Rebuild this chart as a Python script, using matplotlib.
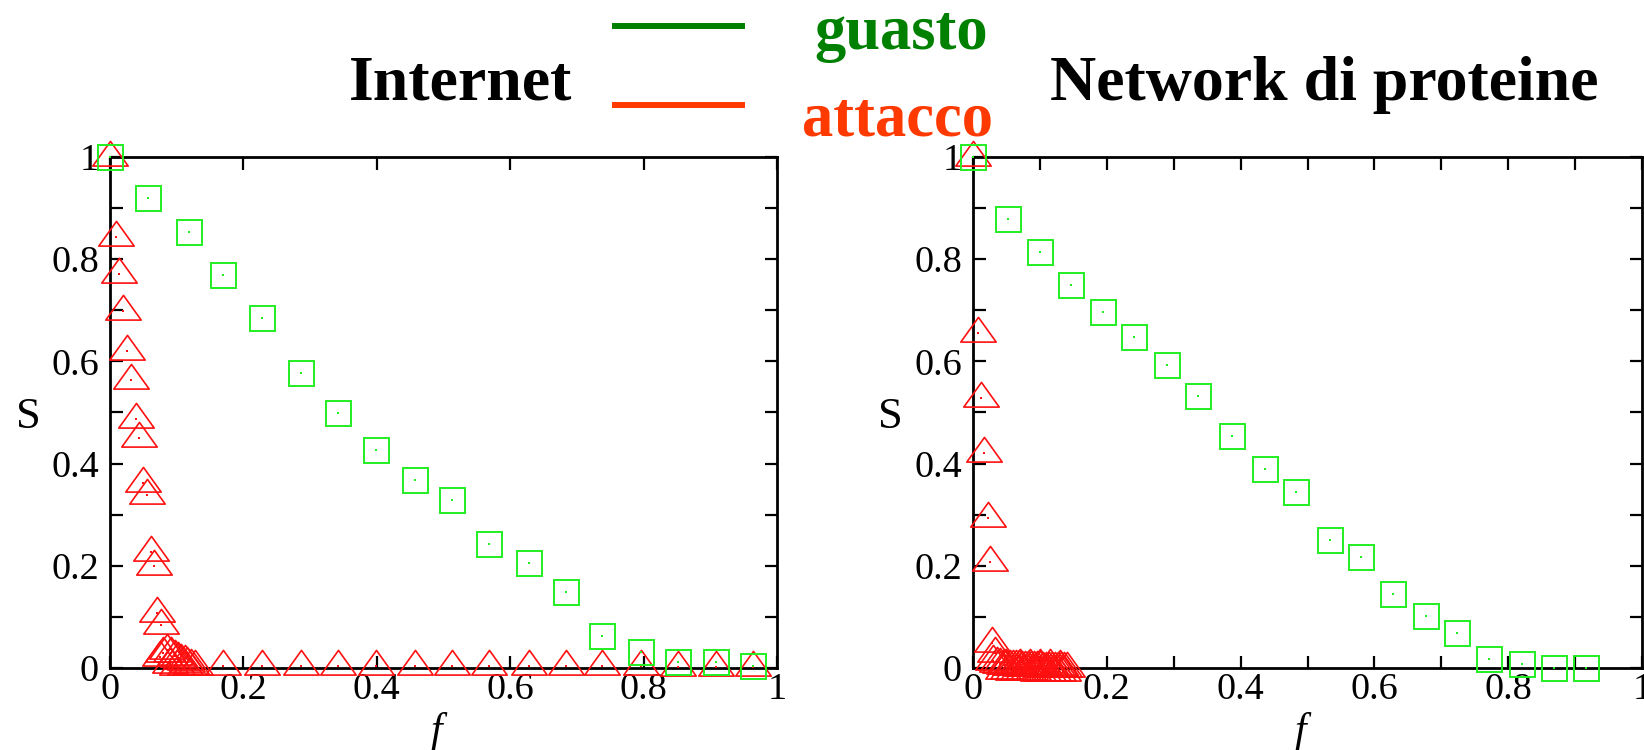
import matplotlib
matplotlib.use('Agg')
import matplotlib.pyplot as plt
from matplotlib.lines import Line2D
from matplotlib.path import Path
from matplotlib.ticker import FixedLocator, MultipleLocator, FixedFormatter

plt.rcParams['font.family'] = ['Liberation Serif', 'DejaVu Serif']

# ---------------- data ----------------
# Internet: failure (guasto)
f_fail_int = [0.0, 0.057, 0.118, 0.170, 0.228, 0.286, 0.342, 0.399, 0.457, 0.513,
              0.568, 0.628, 0.684, 0.738, 0.796, 0.852, 0.909, 0.964]
S_fail_int = [1.0, 0.920, 0.854, 0.770, 0.684, 0.577, 0.499, 0.427, 0.368, 0.329,
              0.242, 0.205, 0.148, 0.062, 0.031, 0.012, 0.012, 0.004]

# Internet: attack (attacco)
f_att_int = [0.0, 0.009, 0.014, 0.020, 0.026, 0.032, 0.039, 0.044, 0.050, 0.055,
             0.062, 0.066, 0.071, 0.077,
             0.080, 0.085, 0.092, 0.097, 0.075, 0.102, 0.107, 0.112, 0.115, 0.090,
             0.122, 0.100, 0.112, 0.128,
             0.170, 0.228, 0.286, 0.342, 0.399, 0.457, 0.513, 0.568, 0.628, 0.684,
             0.738, 0.796, 0.852, 0.909, 0.964]
S_att_int = [1.0, 0.844, 0.772, 0.699, 0.621, 0.563, 0.488, 0.451, 0.362, 0.339,
             0.227, 0.200, 0.108, 0.084,
             0.029, 0.035, 0.029, 0.023, 0.022, 0.019, 0.016, 0.013, 0.009, 0.008,
             0.006, 0.004, 0.003, 0.003,
             0.003, 0.003, 0.003, 0.003, 0.003, 0.003, 0.003, 0.003, 0.003, 0.003,
             0.003, 0.003, 0.002, 0.002, 0.001]

# Protein network: failure (guasto)
f_fail_prot = [0.0, 0.053, 0.100, 0.147, 0.194, 0.241, 0.290, 0.337, 0.387, 0.436,
               0.483, 0.533, 0.580, 0.628, 0.677, 0.724, 0.771, 0.820, 0.868, 0.917]
S_fail_prot = [1.0, 0.878, 0.815, 0.749, 0.696, 0.647, 0.593, 0.532, 0.454, 0.390,
               0.345, 0.250, 0.218, 0.144, 0.101, 0.068, 0.017, 0.007, 0.0, 0.0]

# Protein network: attack (attacco)
f_att_prot = [0.0, 0.008, 0.012, 0.017, 0.022, 0.026, 0.028, 0.033,
              0.030, 0.036, 0.040, 0.046, 0.050, 0.055, 0.060, 0.064, 0.069, 0.073,
              0.078, 0.082, 0.087, 0.091, 0.096, 0.100, 0.105, 0.109, 0.114, 0.118,
              0.123, 0.127, 0.132, 0.136, 0.141,
              0.045, 0.052, 0.060, 0.067, 0.075, 0.082, 0.090, 0.097, 0.105, 0.112,
              0.120, 0.127, 0.134, 0.070, 0.085, 0.100, 0.115, 0.130]
S_att_prot = [1.0, 0.656, 0.528, 0.421, 0.294, 0.208, 0.048, 0.029,
              0.014, 0.010, 0.008, 0.006, 0.005, 0.004, 0.004, 0.003, 0.003, 0.002,
              0.002, 0.002, 0.001, 0.001, 0.001, 0.001, 0.0, 0.0, 0.0, 0.0,
              0.0, 0.0, 0.0, 0.0, 0.0,
              -0.004, -0.004, -0.005, -0.005, -0.006, -0.006, -0.006, -0.007, -0.007,
              -0.007, -0.007, -0.008, -0.008, 0.006, 0.006, 0.005, 0.005, 0.004]

tick_vals = [0, 0.2, 0.4, 0.6, 0.8, 1]
tick_labels = ["0", "0.2", "0.4", "0.6", "0.8", "1"]
titles = ["Internet", "Network di proteine"]
legend_labels = ["guasto", "attacco"]
y_label = "S"
x_label = "f"

# ---------------- style ----------------
W, H = 1644, 750
GREEN_MK = '#22ee22'
RED_MK = '#ff1010'
GREEN_TXT = '#008000'
RED_TXT = '#ff3a00'
TICK_FS = 27.5

fig = plt.figure(figsize=(W / 100, H / 100), dpi=100)


def px_axes(x0, x1, ytop, ybot):
    return [x0 / W, 1 - ybot / H, (x1 - x0) / W, (ybot - ytop) / H]


ax1 = fig.add_axes(px_axes(110, 777, 157, 668))
ax2 = fig.add_axes(px_axes(973, 1642, 157, 668))

tri = Path([(0, 15), (-16.5, -8), (16.5, -8), (0, 15)],
           [Path.MOVETO, Path.LINETO, Path.LINETO, Path.CLOSEPOLY])


def draw(ax, fa, sa, ff, sf):
    ax.plot(fa, sa, linestyle='none', marker=tri, ms=25.5, mfc='none',
            mec=RED_MK, mew=1.2, clip_on=False, zorder=3)
    ax.plot(fa, sa, linestyle='none', marker='s', ms=1.6, mfc=RED_MK,
            mew=0, clip_on=False, zorder=3)
    ax.plot(ff, sf, linestyle='none', marker='s', ms=18, mfc='none',
            mec=GREEN_MK, mew=1.4, clip_on=False, zorder=4)
    ax.plot(ff, sf, linestyle='none', marker='s', ms=1.6, mfc=GREEN_MK,
            mew=0, clip_on=False, zorder=4)
    ax.set_xlim(0, 1)
    ax.set_ylim(0, 1)
    for sp in ax.spines.values():
        sp.set_linewidth(2.0)
    ax.tick_params(which='both', direction='in', length=9, width=1.6,
                   top=True, right=True, labelsize=TICK_FS, colors='black')
    ax.tick_params(axis='x', which='both', pad=3)
    ax.tick_params(axis='y', which='both', pad=8)
    ax.xaxis.set_major_locator(FixedLocator(tick_vals))
    ax.xaxis.set_major_formatter(FixedFormatter(tick_labels))
    ax.yaxis.set_major_locator(FixedLocator(tick_vals))
    ax.yaxis.set_major_formatter(FixedFormatter(tick_labels))
    ax.yaxis.set_minor_locator(MultipleLocator(0.1))
    ax.set_ylabel(y_label, rotation=0, fontsize=32, va='center', ha='center')
    ax.yaxis.set_label_coords(-0.123, 0.491)
    ax.set_xlabel(x_label, fontstyle='italic', fontsize=30, va='center', ha='center')
    ax.xaxis.set_label_coords(0.49, -0.125)


draw(ax1, f_att_int, S_att_int, f_fail_int, S_fail_int)
draw(ax2, f_att_prot, S_att_prot, f_fail_prot, S_fail_prot)
ax2.xaxis.set_minor_locator(MultipleLocator(0.1))

# titles
fig.text(349 / W, 1 - 100 / H, titles[0], fontsize=46, fontweight='bold',
         ha='left', va='baseline')
fig.text(1050 / W, 1 - 100 / H, titles[1], fontsize=46, fontweight='bold',
         ha='left', va='baseline')

# legend
fig.add_artist(Line2D([615 / W, 742 / W], [1 - 26 / H] * 2, color=GREEN_TXT,
                      lw=4.3, transform=fig.transFigure))
fig.add_artist(Line2D([615 / W, 742 / W], [1 - 105 / H] * 2, color=RED_TXT,
                      lw=4.3, transform=fig.transFigure))
fig.text(814 / W, 1 - 49 / H, legend_labels[0], fontsize=45, fontweight='bold',
         color=GREEN_TXT, ha='left', va='baseline')
fig.text(802 / W, 1 - 136 / H, legend_labels[1], fontsize=45, fontweight='bold',
         color=RED_TXT, ha='left', va='baseline')

fig.savefig('out.png', dpi=100)
